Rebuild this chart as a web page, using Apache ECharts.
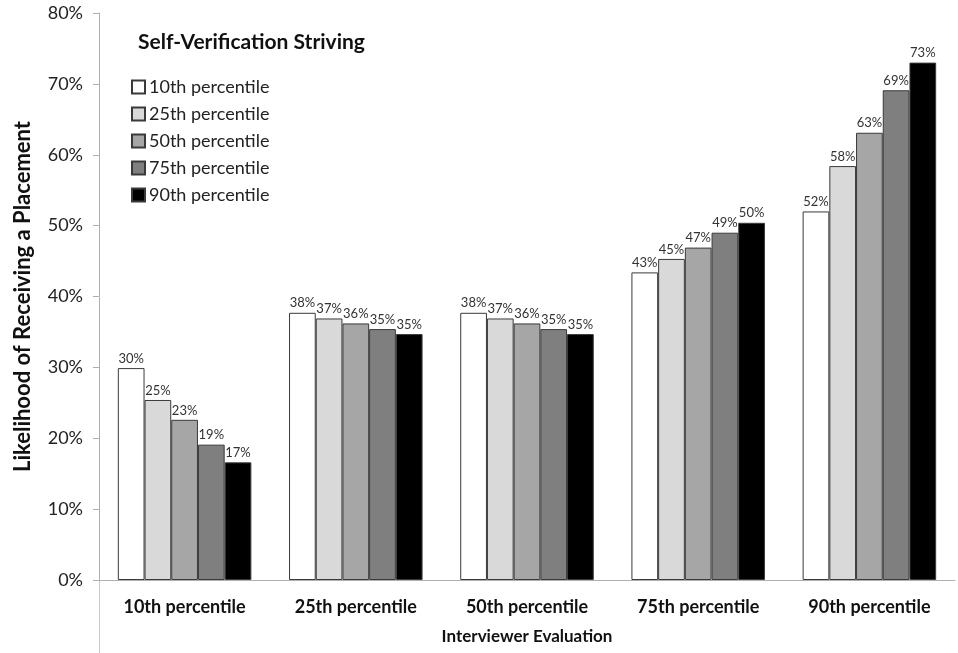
<!DOCTYPE html>
<html>
<head>
<meta charset="utf-8">
<script src="https://cdn.jsdelivr.net/npm/echarts@6/dist/echarts.min.js"></script>
<style>html,body{margin:0;padding:0;background:#fff}#c{width:958px;height:653px}</style>
</head>
<body>
<div id="c"></div>
<script>
const categories = ['10th percentile','25th percentile','50th percentile','75th percentile','90th percentile'];
const seriesNames = ['10th percentile','25th percentile','50th percentile','75th percentile','90th percentile'];
const p10 = [29.9, 37.7, 37.7, 43.4, 52.0];
const p25 = [25.4, 36.9, 36.9, 45.3, 58.4];
const p50 = [22.6, 36.2, 36.2, 46.9, 63.1];
const p75 = [19.1, 35.4, 35.4, 49.0, 69.1];
const p90 = [16.6, 34.7, 34.7, 50.4, 73.0];
const yTicks = [0,10,20,30,40,50,60,70,80];
const colors = ['#ffffff','#d9d9d9','#a6a6a6','#7f7f7f','#000000'];
const values = [p10,p25,p50,p75,p90];

const FONT = 'Lato';
const chart = echarts.init(document.getElementById('c'));
chart.setOption({
  animation:false,
  textStyle:{fontFamily:FONT},
  title:{text:'Self-Verification Striving',left:133,top:27,textStyle:{fontFamily:FONT,fontSize:21,fontWeight:'bold',color:'#111'}},
  legend:{
    orient:'vertical',left:126,top:73,itemWidth:13,itemHeight:13,itemGap:9,
    icon:'rect',
    textStyle:{fontFamily:FONT,fontSize:18,color:'#222',padding:[0,0,0,-1]},
    data:seriesNames
  },
  grid:{left:99,right:3,top:13,bottom:73},
  xAxis:{
    type:'category',data:categories,
    axisLine:{lineStyle:{color:'#b0b0b0',width:1}},
    axisTick:{length:37,lineStyle:{color:'#c8c8c8'}},
    axisLabel:{fontFamily:FONT,fontSize:18,fontWeight:'bold',color:'#111',margin:18},
    name:'Interviewer Evaluation',nameLocation:'middle',nameGap:48,
    nameTextStyle:{fontFamily:FONT,fontSize:17,fontWeight:'bold',color:'#111'}
  },
  yAxis:{
    type:'value',min:0,max:80,interval:10,
    axisLine:{show:true,lineStyle:{color:'#b0b0b0'}},
    axisTick:{show:true,length:6,lineStyle:{color:'#b0b0b0'}},
    splitLine:{show:false},
    axisLabel:{fontFamily:FONT,fontSize:18,color:'#222',margin:16,formatter:v=>v+'%'},
    name:'Likelihood of Receiving a Placement',nameLocation:'middle',nameGap:65,
    nameTextStyle:{fontFamily:FONT,fontSize:22,fontWeight:'bold',color:'#111'}
  },
  graphic:[{type:'line',shape:{x1:99.5,y1:580,x2:99.5,y2:653},style:{stroke:'#c8c8c8',lineWidth:1}}],
  series: values.map((d,i)=>({
    name:seriesNames[i],type:'bar',data:d,barGap:'0%',barCategoryGap:'22%',
    itemStyle:{color:colors[i],borderColor:'#3a3a3a',borderWidth:1},
    label:{show:true,position:'top',distance:3,fontFamily:FONT,fontSize:13,color:'#333',formatter:p=>Math.round(p.value)+'%'}
  }))
});
</script>
</body>
</html>
